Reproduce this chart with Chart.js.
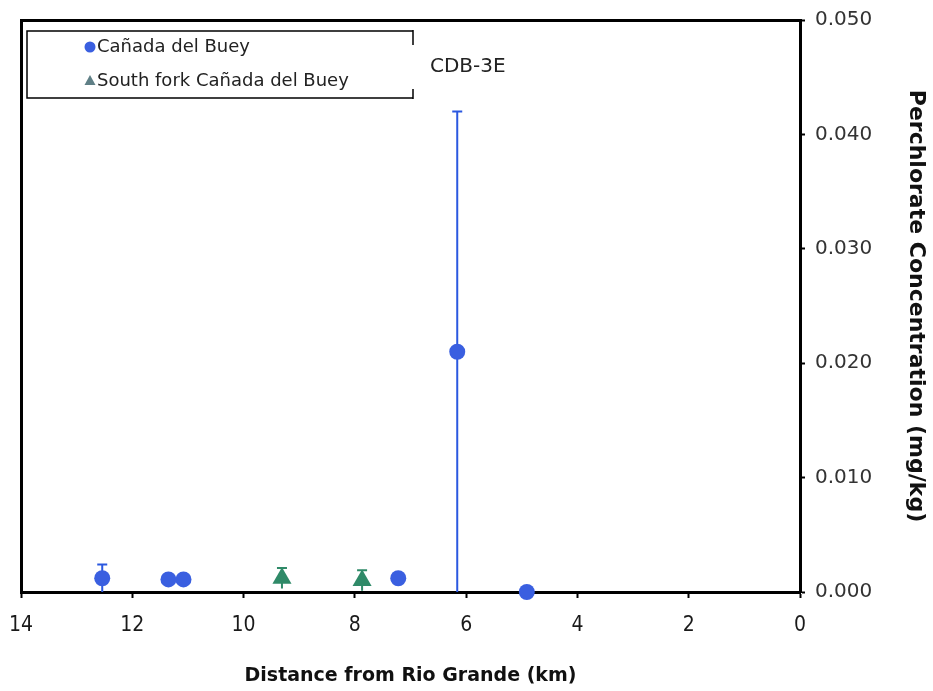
<!DOCTYPE html>
<html>
<head>
<meta charset="utf-8">
<script src="https://cdn.jsdelivr.net/npm/chart.js@4/dist/chart.umd.min.js"></script>
<style>
	html, body { margin: 0; padding: 0; background: #fff; }
	#wrap { width: 933px; height: 691px; }
</style>
</head>
<body>
<div id="wrap"><canvas id="chart"></canvas></div>
<script>
// Perchlorate in sediment vs. distance from the Rio Grande

const cdbDist   = [12.54, 11.35, 11.08, 7.22, 6.16, 4.91]
const cdbConc   = [0.0012, 0.0011, 0.0011, 0.0012, 0.0210, 0.0000]
const cdbErr    = [0.0012, 0.0002, 0.0002, 0.0002, 0.0210, 0.0000]

const sfDist    = [9.31, 7.87]
const sfConc    = [0.0012, 0.0010]
const sfErr     = [0.0009, 0.0009]

const xTicks    = [14, 12, 10, 8, 6, 4, 2, 0]
const yTicks    = [0, 0.01, 0.02, 0.03, 0.04, 0.05]

const legendNames = ['Cañada del Buey', 'South fork Cañada del Buey']
const noteText    = 'CDB-3E'

const blue  = '#3a5fe0'
const green = '#2f8a68'

const toPts = (xs, ys) => xs.map((x, i) => ({ x : x, y : ys[i] }))

// keep tick labels from pushing the plot area inward
const noPad = (axis) => {
	axis.paddingLeft = 0; axis.paddingRight = 0
	axis.paddingTop  = 0; axis.paddingBottom = 0
}

const errorBars = {
	id : 'errorBars',
	beforeDatasetsDraw : (chart) => {
		const { ctx, scales : { x, y } } = chart
		ctx.save()
		chart.data.datasets.forEach((ds) => {
			if ( ! ds.errs ) { return }
			ctx.strokeStyle = ds.errColor
			ctx.lineWidth   = 2
			ds.data.forEach((p, i) => {
				const e = ds.errs[i]
				if ( ! e ) { return }
				const px = x.getPixelForValue(p.x)
				const y1 = y.getPixelForValue(p.y + e)
				const y2 = y.getPixelForValue(Math.max(0, p.y - e))
				ctx.beginPath()
				ctx.moveTo(px, y1); ctx.lineTo(px, y2)
				ctx.moveTo(px - 5, y1); ctx.lineTo(px + 5, y1)
				ctx.stroke()
			})
		})
		ctx.restore()
	},
}

const boxLegend = {
	id : 'boxLegend',
	afterDraw : (chart) => {
		const { ctx } = chart
		ctx.save()
		ctx.strokeStyle = '#000'
		ctx.lineWidth   = 1.5
		ctx.beginPath()
		ctx.moveTo(413, 31); ctx.lineTo(27, 31); ctx.lineTo(27, 98); ctx.lineTo(413, 98)
		ctx.moveTo(413, 30); ctx.lineTo(413, 45)
		ctx.moveTo(413, 99); ctx.lineTo(413, 89)
		ctx.stroke()

		ctx.fillStyle = blue
		ctx.beginPath()
		ctx.arc(90, 47, 5.5, 0, Math.PI * 2)
		ctx.fill()
		ctx.fillStyle = '#5f7f86'
		ctx.beginPath()
		ctx.moveTo(90, 75); ctx.lineTo(95.5, 85); ctx.lineTo(84.5, 85)
		ctx.closePath()
		ctx.fill()

		ctx.fillStyle    = '#222'
		ctx.font         = '18px "DejaVu Sans"'
		ctx.textBaseline = 'middle'
		ctx.fillText(legendNames[0], 97, 47)
		ctx.fillText(legendNames[1], 97, 81)

		ctx.font = '20px "DejaVu Sans"'
		ctx.fillText(noteText, 430, 67)
		ctx.restore()
	},
}

new Chart(
	document.getElementById('chart'),
	{
		type : 'scatter',
		data : {
			datasets : [
				{
					label           : legendNames[0],
					data            : toPts(cdbDist, cdbConc),
					errs            : cdbErr,
					errColor        : '#2b58e0',
					pointStyle      : 'circle',
					pointRadius     : 8,
					backgroundColor : blue,
					borderColor     : blue,
					borderWidth     : 0,
				},
				{
					label           : legendNames[1],
					data            : toPts(sfDist, sfConc),
					errs            : sfErr,
					errColor        : green,
					pointStyle      : 'triangle',
					pointRadius     : 11,
					backgroundColor : green,
					borderColor     : green,
					borderWidth     : 0,
				},
			],
		},
		plugins : [errorBars, boxLegend],
		options : {
			responsive          : true,
			maintainAspectRatio : false,
			animation           : false,
			clip                : false,
			layout : { padding : { left : 21, top : 20, right : 0, bottom : 0 } },
			plugins : {
				legend  : { display : false },
				tooltip : { enabled : false },
			},
			scales : {
				x : {
					type    : 'linear',
					reverse : true,
					min     : 0,
					max     : 14,
					afterBuildTicks : (axis) => { axis.ticks = xTicks.map((v) => ({ value : v })) },
					afterFit : (axis) => { axis.height = 99; noPad(axis) },
					ticks   : {
						color   : '#1a1a1a',
						padding : 15,
						font    : { family : '"DejaVu Sans Condensed", sans-serif', size : 21 },
					},
					grid    : { drawOnChartArea : false, color : '#000', tickLength : 6, tickWidth : 2 },
					border  : { color : '#000', width : 3 },
					title   : {
						display : true,
						text    : 'Distance from Rio Grande (km)',
						color   : '#111',
						font    : { family : '"DejaVu Sans", sans-serif', size : 19, weight : 'bold' },
					},
				},
				y : {
					type     : 'linear',
					position : 'right',
					min      : 0,
					max      : 0.05,
					afterBuildTicks : (axis) => { axis.ticks = yTicks.map((v) => ({ value : v })) },
					afterFit : (axis) => { axis.width = 133; noPad(axis) },
					ticks    : {
						color    : '#333',
						padding  : 10,
						font     : { family : '"DejaVu Sans"', size : 20 },
						callback : (v) => v.toFixed(3),
					},
					grid     : { drawOnChartArea : false, color : '#000', tickLength : 5, tickWidth : 2 },
					border   : { color : '#000', width : 3 },
					title    : {
						display : true,
						text    : 'Perchlorate Concentration (mg/kg)',
						color   : '#111',
						font    : { family : '"DejaVu Sans", sans-serif', size : 22, weight : 'bold' },
					},
				},
				xTop : {
					type     : 'linear',
					position : 'top',
					display  : true,
					ticks    : { display : false },
					grid     : { display : false },
					border   : { color : '#000', width : 3 },
					afterFit : (axis) => { axis.height = 0; noPad(axis) },
				},
				yLeft : {
					type     : 'linear',
					position : 'left',
					display  : true,
					ticks    : { display : false },
					grid     : { display : false },
					border   : { color : '#000', width : 3 },
					afterFit : (axis) => { axis.width = 0; noPad(axis) },
				},
			},
		},
	}
)
</script>
</body>
</html>
